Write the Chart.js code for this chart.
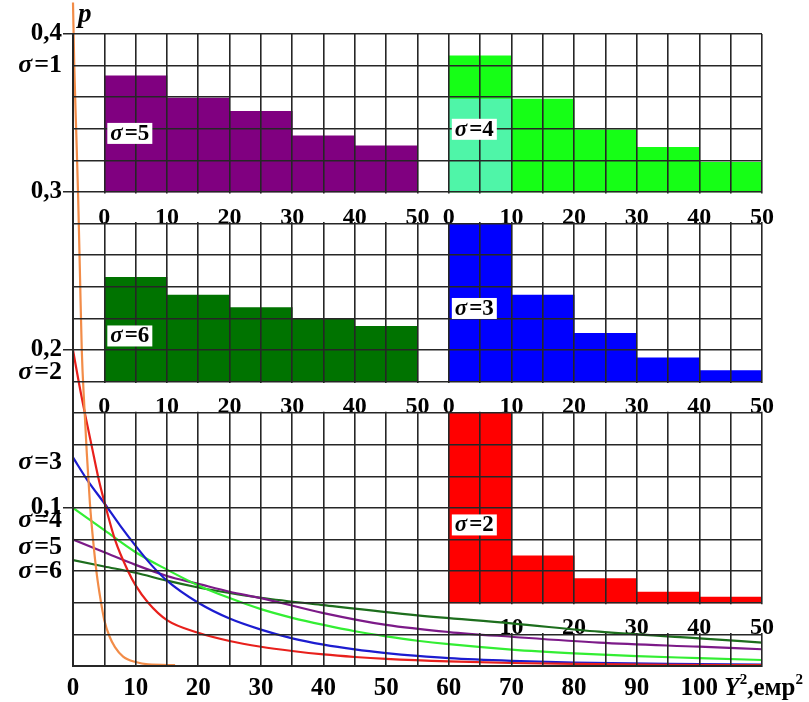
<!DOCTYPE html>
<html>
<head>
<meta charset="utf-8">
<script src="https://cdn.jsdelivr.net/npm/chart.js@4.4.1/dist/chart.umd.min.js"></script>
<style>
  html, body { margin: 0; padding: 0; background: #fff; }
  #c { display: block; }
</style>
</head>
<body>
<canvas id="c" width="809" height="702"></canvas>
<script>
// axis ticks
const xTickLabels = [0, 10, 20, 30, 40, 50, 60, 70, 80, 90, 100];
const yTickValues = [0.1, 0.2, 0.3, 0.4];
const yTickLabels = ['0,1', '0,2', '0,3', '0,4'];
const insetTicks = [0, 10, 20, 30, 40, 50];
const insetTicksLow = [10, 20, 30, 40, 50];

// p(Y^2) curves
const s1X = [0, 0.2, 0.5, 0.8, 1.1, 1.4, 1.8, 2.2, 2.7, 3.2, 3.8, 4.4, 5, 5.8, 6.7, 8, 10, 12, 16.3];
const s1P = [0.42, 0.38, 0.34, 0.30, 0.25, 0.20, 0.165, 0.135, 0.103, 0.08, 0.058, 0.042, 0.029, 0.019, 0.012, 0.006, 0.0025, 0.001, 0.0006];
const s2X = [0, 1, 2, 3, 4, 5, 6.7, 8.8, 10, 12, 15, 20, 25, 30, 35, 40, 45, 50, 60, 70, 80, 95, 110];
const s2P = [0.2, 0.178, 0.158, 0.139, 0.12, 0.104, 0.08, 0.06, 0.051, 0.04, 0.029, 0.021, 0.0158, 0.0122, 0.0095, 0.0073, 0.0057, 0.0045, 0.0029, 0.0019, 0.0013, 0.0008, 0.0005];
const s3X = [0, 2.4, 5, 7.5, 10, 12.5, 15, 20, 25, 30, 35, 40, 45, 50, 55, 60, 70, 80, 95, 110];
const s3P = [0.132, 0.117, 0.103, 0.089, 0.076, 0.064, 0.054, 0.04, 0.03, 0.023, 0.0175, 0.0135, 0.0105, 0.0082, 0.0064, 0.005, 0.0033, 0.0022, 0.0013, 0.0009];
const s4X = [0, 5, 10, 15, 20, 25, 30, 35, 40, 45, 50, 55, 60, 70, 80, 90, 100, 110];
const s4P = [0.1, 0.086, 0.072, 0.061, 0.051, 0.043, 0.036, 0.0305, 0.026, 0.022, 0.0188, 0.016, 0.0138, 0.0104, 0.008, 0.0062, 0.005, 0.0038];
const s5X = [0, 5, 10, 15, 20, 25, 30, 40, 50, 60, 70, 84, 100, 110];
const s5P = [0.08, 0.072, 0.064, 0.057, 0.052, 0.047, 0.043, 0.0335, 0.026, 0.0215, 0.0185, 0.0148, 0.0122, 0.0106];
const s6X = [0, 5, 10, 15, 20, 25, 30, 40, 55, 70, 84, 100, 110];
const s6P = [0.067, 0.063, 0.059, 0.054, 0.0497, 0.0462, 0.0432, 0.0385, 0.032, 0.027, 0.0217, 0.0175, 0.0148];

// inset histograms: bin centres, bar heights in grid cells above the inset base
const binCentres = [5, 15, 25, 35, 45];
const hist5 = [3.68, 2.97, 2.55, 1.78, 1.46];
const hist4 = [4.31, 2.94, 1.97, 1.41, 0.94];
const hist4Light = [2.94];
const hist6 = [3.3, 2.74, 2.34, 1.97, 1.75];
const hist3 = [5, 2.74, 1.53, 0.75, 0.35];
const hist2 = [6, 1.49, 0.77, 0.34, 0.18];

const FONT = '"Liberation Serif", "DejaVu Serif", serif';
const GRID = '#262626';
const INSET_AXES = ['x5', 'x4', 'x6', 'x3', 'x2'];

// label rows under the insets, where the grid is not drawn
const strips = [
  { x0: 2.5, top: 0.3, bottom: 0.28 },
  { x0: 2.5, top: 0.18, bottom: 0.16 },
  { x0: 60, top: 0.04, bottom: 0.02 }
];

const sideLabels = [
  { n: 1, p: 0.38 }, { n: 2, p: 0.186 }, { n: 3, p: 0.129 },
  { n: 4, p: 0.092 }, { n: 5, p: 0.075 }, { n: 6, p: 0.060 }
];
const insetLabels = [
  { n: 5, xAxis: 'x5', yAxis: 'yTop', at: 1.87 },
  { n: 4, xAxis: 'x4', yAxis: 'yTop', at: 2.0 },
  { n: 6, xAxis: 'x6', yAxis: 'yMid', at: 1.46 },
  { n: 3, xAxis: 'x3', yAxis: 'yMid', at: 2.33 },
  { n: 2, xAxis: 'x2', yAxis: 'yBot', at: 2.48 }
];

function pts(xs, ys) {
  return xs.map((x, i) => ({ x: x, y: ys[i] }));
}

function curve(label, xs, ys, color) {
  return {
    type: 'line', label: label, data: pts(xs, ys),
    borderColor: color, borderWidth: 2.2, pointRadius: 0,
    cubicInterpolationMode: 'monotone', xAxisID: 'x', yAxisID: 'y', order: 0
  };
}

function hist(label, heights, color, xAxis, yAxis, order) {
  return {
    type: 'bar', label: label, data: pts(binCentres.slice(0, heights.length), heights),
    backgroundColor: color, borderWidth: 0, barPercentage: 1, categoryPercentage: 1,
    grouped: false, xAxisID: xAxis, yAxisID: yAxis, order: order || 5
  };
}

function zeroPadding(a) {
  a.paddingLeft = 0; a.paddingRight = 0; a.paddingTop = 0; a.paddingBottom = 0;
}

function insetAxis(min, max, baseP, ticks) {
  return {
    type: 'linear', min: min, max: max, offset: false,
    position: { y: baseP },
    grid: { display: false, offset: false }, border: { display: false },
    afterBuildTicks: a => { a.ticks = ticks.map(v => ({ value: v })); },
    afterFit: zeroPadding,
    ticks: { autoSkip: false, maxRotation: 0, padding: 3, color: '#000',
             font: { family: FONT, size: 24, weight: 'bold' } }
  };
}

function sigmaText(ctx, n, x, y, size, align, measureOnly) {
  const f1 = 'italic bold ' + size + 'px ' + FONT;
  const f2 = 'bold ' + size + 'px ' + FONT;
  ctx.font = f1;
  const w1 = ctx.measureText('\u03c3').width + 2;
  ctx.font = f2;
  const w2 = ctx.measureText('=' + n).width;
  if (measureOnly) return w1 + w2;
  const left = align === 'right' ? x - w1 - w2 : x;
  ctx.textAlign = 'left';
  ctx.textBaseline = 'middle';
  ctx.font = f1;
  ctx.fillText('\u03c3', left, y);
  ctx.font = f2;
  ctx.fillText('=' + n, left + w1, y);
  return w1 + w2;
}

const gridMask = {
  id: 'gridMask',
  beforeInit(chart) {
    if (!Chart.layouts) return;
    Chart.layouts.addBox(chart, {
      position: 'chartArea', weight: 0, fullSize: false, options: {},
      isHorizontal() { return false; },
      update() {}, draw() {},
      _layers() {
        return [
          { z: 0.5, draw: () => {
            const ctx = chart.ctx, xs = chart.scales.x, ys = chart.scales.y;
            ctx.save();
            ctx.beginPath();
            ctx.rect(0, 0, chart.width, chart.height);
            strips.forEach(s => {
              const left = xs.getPixelForValue(s.x0) + 1.5;
              const top = ys.getPixelForValue(s.top) + 1.5;
              const bottom = ys.getPixelForValue(s.bottom) - 1.5;
              ctx.rect(left, top, chart.width - left, bottom - top);
            });
            ctx.clip('evenodd');
            ctx.beginPath();
          } },
          { z: 1.5, draw: () => { chart.ctx.restore(); chart.ctx.beginPath(); } }
        ];
      }
    });
  },
  // inset axes share the width of the plot area
  afterLayout(chart) {
    const area = chart.chartArea;
    INSET_AXES.forEach(id => {
      const s = chart.scales[id];
      s.left = area.left; s.right = area.right; s.width = area.right - area.left;
      s.configure();
    });
  }
};

const captions = {
  id: 'captions',
  afterDraw(chart) {
    const ctx = chart.ctx, xs = chart.scales.x, ys = chart.scales.y;
    ctx.save();
    ctx.fillStyle = '#000';
    sideLabels.forEach(l => sigmaText(ctx, l.n, xs.left - 11, ys.getPixelForValue(l.p), 26, 'right'));

    insetLabels.forEach(l => {
      const x = chart.scales[l.xAxis].getPixelForValue(0) + 3;
      const y = chart.scales[l.yAxis].getPixelForValue(l.at);
      const w = sigmaText(ctx, l.n, 0, 0, 23, 'left', true);
      ctx.fillStyle = '#fff';
      ctx.fillRect(x, y - 10, w + 6, 21);
      ctx.fillStyle = '#000';
      sigmaText(ctx, l.n, x + 3, y + 1, 23, 'left');
    });

    ctx.textAlign = 'left';
    ctx.textBaseline = 'alphabetic';
    ctx.font = 'italic bold 27px ' + FONT;
    ctx.fillText('p', xs.left + 5, 22);

    // axis name after the last tick label
    let x = xs.getPixelForValue(100) + 25;
    const base = chart.chartArea.bottom + 29;
    ctx.font = 'italic bold 25px ' + FONT;
    ctx.fillText('Y', x, base);
    x += ctx.measureText('Y').width;
    ctx.font = 'bold 15px ' + FONT;
    ctx.fillText('2', x, base - 11);
    x += ctx.measureText('2').width;
    ctx.font = 'bold 25px ' + FONT;
    ctx.fillText(',\u0435\u043c\u0440', x, base);
    x += ctx.measureText(',\u0435\u043c\u0440').width;
    ctx.font = 'bold 15px ' + FONT;
    ctx.fillText('2', x, base - 11);
    ctx.restore();
  }
};

const datasets = [
  curve('\u03c3=1', s1X, s1P, '#f28c48'),
  curve('\u03c3=2', s2X, s2P, '#e8201c'),
  curve('\u03c3=3', s3X, s3P, '#1c1cd0'),
  curve('\u03c3=4', s4X, s4P, '#33ee33'),
  curve('\u03c3=5', s5X, s5P, '#7c1a88'),
  curve('\u03c3=6', s6X, s6P, '#1d6e1d'),
  hist('hist \u03c3=5', hist5, '#800080', 'x5', 'yTop'),
  hist('hist \u03c3=4 low', hist4Light, '#4ff5a8', 'x4', 'yTop', 4),
  hist('hist \u03c3=4', hist4, '#16ff16', 'x4', 'yTop'),
  hist('hist \u03c3=6', hist6, '#007300', 'x6', 'yMid'),
  hist('hist \u03c3=3', hist3, '#0000ff', 'x3', 'yMid'),
  hist('hist \u03c3=2', hist2, '#ff0000', 'x2', 'yBot')
];
datasets[0].clip = false;

new Chart(document.getElementById('c'), {
  data: { datasets: datasets },
  plugins: [gridMask, captions],
  options: {
    responsive: false,
    animation: false,
    events: [],
    layout: { padding: { left: 0, top: 34, right: 47, bottom: 0 } },
    plugins: { legend: { display: false }, tooltip: { enabled: false } },
    scales: {
      x: {
        type: 'linear', min: 0, max: 110,
        afterFit: a => { zeroPadding(a); a.height = 36; },
        grid: { color: GRID, lineWidth: 1.6, z: 1, drawTicks: false },
        border: { color: GRID, width: 2, z: 1 },
        ticks: {
          stepSize: 5, autoSkip: false, maxRotation: 0, padding: 8, color: '#000',
          font: { family: FONT, size: 25, weight: 'bold' },
          callback: v => xTickLabels.includes(v) ? String(v) : ''
        }
      },
      y: {
        type: 'linear', min: 0, max: 0.4,
        afterFit: a => { zeroPadding(a); a.width = 73; },
        grid: {
          color: GRID, lineWidth: 1.6, z: 1, tickLength: 10,
          tickColor: c => yTickValues.some(v => Math.abs(v - c.tick.value) < 1e-6) ? GRID : 'rgba(0,0,0,0)'
        },
        border: { color: GRID, width: 2, z: 1 },
        ticks: {
          stepSize: 0.02, autoSkip: false, padding: 1, color: '#000',
          font: { family: FONT, size: 25, weight: 'bold' },
          callback: v => {
            const i = yTickValues.findIndex(t => Math.abs(t - v) < 1e-6);
            return i < 0 ? '' : yTickLabels[i];
          }
        }
      },
      yTop: { type: 'linear', display: false, min: -15, max: 5 },
      yMid: { type: 'linear', display: false, min: -9, max: 11 },
      yBot: { type: 'linear', display: false, min: -2, max: 18 },
      x5: insetAxis(-5, 105, 0.3, insetTicks),
      x4: insetAxis(-60, 50, 0.3, insetTicks),
      x6: insetAxis(-5, 105, 0.18, insetTicks),
      x3: insetAxis(-60, 50, 0.18, insetTicks),
      x2: insetAxis(-60, 50, 0.04, insetTicksLow)
    }
  }
});
</script>
</body>
</html>
